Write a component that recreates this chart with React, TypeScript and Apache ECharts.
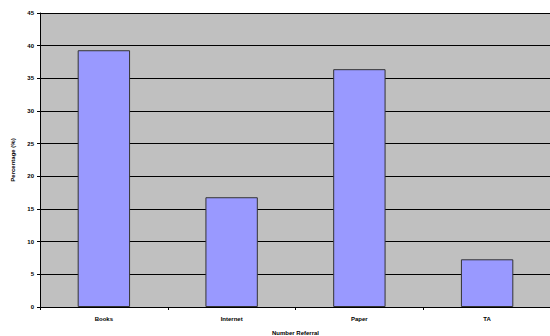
import React, { useEffect, useRef } from "react";
import * as echarts from "echarts";

const categories = ["Books", "Internet", "Paper", "TA"];
const percentages = [39.3, 16.8, 36.4, 7.3];
const yTicks = [0, 5, 10, 15, 20, 25, 30, 35, 40, 45];

export default function App() {
  const ref = useRef<HTMLDivElement>(null);

  useEffect(() => {
    if (!ref.current) return;
    const chart = echarts.init(ref.current, null, { renderer: "svg" });
    const font = "Arial, 'Liberation Sans', sans-serif";
    chart.setOption({
      animation: false,
      backgroundColor: "#ffffff",
      grid: {
        left: 40,
        right: -1,
        top: 13,
        bottom: 29,
        outerBoundsMode: "none",
        containLabel: false,
        backgroundColor: "#c0c0c0",
        show: true,
        borderWidth: 0,
      },
      xAxis: {
        type: "category",
        data: categories,
        name: "Number Referral",
        nameLocation: "middle",
        nameGap: 23,
        nameTextStyle: { fontFamily: font, fontSize: 6, fontWeight: "bold", color: "#000" },
        axisLine: { lineStyle: { color: "#000", width: 1 } },
        axisTick: { show: true, alignWithLabel: false, length: 3, inside: false, lineStyle: { color: "#000" } },
        axisLabel: { fontFamily: font, fontSize: 6, fontWeight: "bold", color: "#000", margin: 9 },
      },
      yAxis: {
        type: "value",
        min: yTicks[0],
        max: yTicks[yTicks.length - 1],
        interval: 5,
        name: "Percentage (%)",
        nameLocation: "middle",
        nameGap: 23,
        nameRotate: 90,
        nameTextStyle: { fontFamily: font, fontSize: 6, fontWeight: "bold", color: "#000" },
        axisLine: { show: true, lineStyle: { color: "#000", width: 1 } },
        axisTick: { show: true, length: 3, lineStyle: { color: "#000" } },
        axisLabel: { fontFamily: font, fontSize: 6, fontWeight: "bold", color: "#000", margin: 6 },
        splitLine: { show: true, lineStyle: { color: "#000", width: 1 } },
      },
      series: [
        {
          type: "bar",
          data: percentages,
          barWidth: "41%",
          itemStyle: { color: "#9999ff", borderColor: "#333333", borderWidth: 1 },
        },
      ],
    });
    return () => chart.dispose();
  }, []);

  return <div ref={ref} style={{ width: 550, height: 336, position: "absolute", left: 0, top: 0 }} />;
}
